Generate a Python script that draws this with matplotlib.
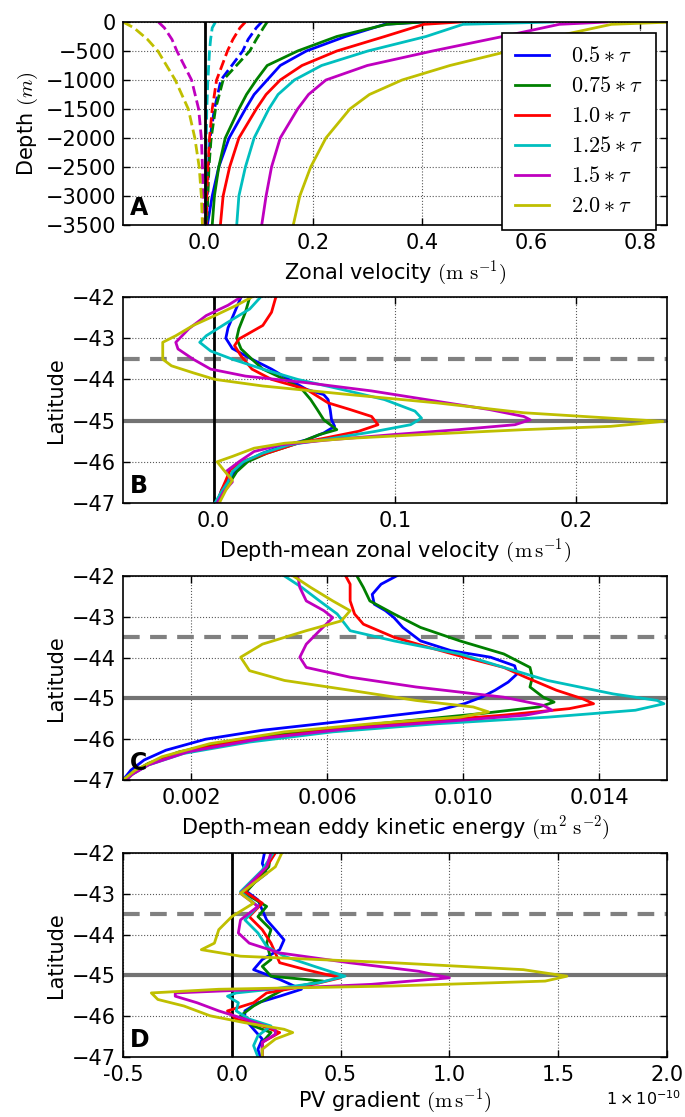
import numpy as np
import matplotlib
matplotlib.use('Agg')
import matplotlib.pyplot as plt

plt.rcParams['mathtext.fontset'] = 'cm'
plt.rcParams['font.family'] = 'DejaVu Sans'

# ------ data ------
labels = [r'$0.5\ast\tau$', r'$0.75\ast\tau$', r'$1.0\ast\tau$',
          r'$1.25\ast\tau$', r'$1.5\ast\tau$', r'$2.0\ast\tau$']
colors = ['b', 'g', 'r', 'c', 'm', 'y']

# --- A: zonal velocity profiles (solid) and dashed profiles
a_depth = [0, -40, -250, -500, -750, -1000, -1250, -1500, -2000, -2500, -3000, -3500]
a_u_05 = [0.40, 0.331, 0.259, 0.187, 0.139, 0.115, 0.091, 0.075, 0.045, 0.026, 0.014, 0.005]
a_u_075 = [0.40, 0.335, 0.243, 0.171, 0.115, 0.095, 0.077, 0.063, 0.038, 0.026, 0.018, 0.014]
a_u_10 = [0.47, 0.403, 0.331, 0.243, 0.179, 0.139, 0.113, 0.095, 0.063, 0.046, 0.034, 0.029]
a_u_125 = [0.64, 0.475, 0.407, 0.300, 0.215, 0.165, 0.135, 0.118, 0.091, 0.075, 0.063, 0.059]
a_u_15 = [0.74, 0.652, 0.548, 0.419, 0.299, 0.223, 0.191, 0.171, 0.139, 0.123, 0.113, 0.105]
a_u_20 = [0.86, 0.748, 0.644, 0.560, 0.451, 0.363, 0.303, 0.267, 0.223, 0.195, 0.175, 0.163]

a_depth_d = [0, -100, -300, -500, -1000, -1500, -2000, -2500, -3000, -3500]
a_ud_05 = [0.105, 0.095, 0.080, 0.070, 0.030, 0.018, 0.010, 0.007, 0.005, 0.003]
a_ud_075 = [0.115, 0.108, 0.095, 0.083, 0.034, 0.020, 0.012, 0.008, 0.006, 0.004]
a_ud_10 = [0.075, 0.065, 0.052, 0.042, 0.022, 0.014, 0.009, 0.006, 0.004, 0.003]
a_ud_125 = [0.020, 0.014, 0.011, 0.009, 0.006, 0.004, 0.003, 0.002, 0.002, 0.002]
a_ud_15 = [-0.085, -0.074, -0.060, -0.051, -0.024, -0.011, -0.006, -0.004, -0.003, -0.003]
a_ud_20 = [-0.150, -0.130, -0.105, -0.086, -0.054, -0.030, -0.018, -0.010, -0.006, -0.004]

# --- B: depth-mean zonal velocity
b_lat_05 = [-42.00, -42.25, -42.50, -42.75, -43.00, -43.25, -43.51, -43.75, -44.00, -44.24, -44.37, -44.49,
            -44.75, -44.98, -45.14, -45.30, -45.47, -45.63, -45.79, -46.00, -46.20, -46.45, -46.69, -47.00]
b_u_05 = [0.0151, 0.0127, 0.0103, 0.0079, 0.0067, 0.0103, 0.0211, 0.0319, 0.0415, 0.0511, 0.0607, 0.0631,
          0.0643, 0.0650, 0.0667, 0.0607, 0.0511, 0.0367, 0.0271, 0.0175, 0.0127, 0.0079, 0.0043, 0.0019]
b_lat_075 = [-42.00, -42.37, -42.77, -43.00, -43.26, -43.51, -43.75, -44.00, -44.24, -44.49, -44.73, -44.98,
             -45.22, -45.34, -45.55, -45.79, -46.00, -46.24, -46.49, -46.73, -47.00]
b_u_075 = [0.0199, 0.0175, 0.0139, 0.0127, 0.0151, 0.0211, 0.0271, 0.0391, 0.0487, 0.0535, 0.0571, 0.0607,
           0.0679, 0.0583, 0.0463, 0.0295, 0.0187, 0.0127, 0.0091, 0.0043, 0.0019]
b_lat_10 = [-42.00, -42.37, -42.69, -43.02, -43.18, -43.43, -43.75, -44.00, -44.24, -44.57, -44.73, -44.90,
            -45.10, -45.26, -45.43, -45.55, -45.79, -46.00, -46.20, -46.45, -46.69, -47.00]
b_u_10 = [0.0343, 0.0319, 0.0271, 0.0139, 0.0115, 0.0151, 0.0211, 0.0319, 0.0511, 0.0631, 0.0751, 0.0871,
          0.0906, 0.0799, 0.0607, 0.0463, 0.0295, 0.0151, 0.0091, 0.0067, 0.0043, 0.0019]
b_lat_125 = [-42.00, -42.29, -42.61, -42.94, -43.10, -43.31, -43.51, -43.75, -44.00, -44.24, -44.49, -44.77,
             -44.94, -45.10, -45.26, -45.43, -45.59, -45.79, -46.00, -46.24, -46.49, -46.73, -47.00]
b_u_125 = [0.0259, 0.0199, 0.0079, -0.0041, -0.0077, -0.0017, 0.0103, 0.0271, 0.0463, 0.0703, 0.0942, 0.1110,
           0.1146, 0.1086, 0.0894, 0.0655, 0.0415, 0.0271, 0.0163, 0.0103, 0.0079, 0.0043, 0.0007]
b_lat_15 = [-42.00, -42.20, -42.45, -42.77, -43.10, -43.26, -43.51, -43.75, -43.92, -44.08, -44.28, -44.53,
            -44.73, -44.90, -44.98, -45.10, -45.22, -45.34, -45.47, -45.59, -45.75, -46.00, -46.24, -46.49,
            -46.73, -47.00]
b_u_15 = [0.0151, 0.0079, -0.0041, -0.0137, -0.0209, -0.0197, -0.0113, -0.0017, 0.0175, 0.0511, 0.0871, 0.1230,
          0.1518, 0.1710, 0.1746, 0.1662, 0.1350, 0.0990, 0.0631, 0.0367, 0.0223, 0.0139, 0.0067, 0.0103,
          0.0055, 0.0019]
b_lat_20 = [-42.00, -42.20, -42.45, -42.69, -42.94, -43.10, -43.31, -43.51, -43.67, -43.84, -44.00, -44.16,
            -44.37, -44.57, -44.81, -44.94, -45.02, -45.14, -45.22, -45.32, -45.43, -45.55, -45.67, -45.87,
            -46.00, -46.20, -46.45, -46.69, -47.00]
b_u_20 = [0.0211, 0.0127, 0.0007, -0.0113, -0.0209, -0.0281, -0.0281, -0.0281, -0.0233, -0.0113, 0.0007, 0.0271,
          0.0751, 0.1230, 0.1710, 0.2189, 0.2477, 0.2189, 0.1710, 0.1230, 0.0751, 0.0391, 0.0223, 0.0103,
          0.0019, 0.0055, 0.0103, 0.0067, 0.0031]

# --- C: depth-mean eddy kinetic energy
c_lat_05 = [-42.00, -42.20, -42.45, -42.69, -42.85, -43.02, -43.26, -43.59, -43.83, -43.99, -44.20, -44.40,
            -44.60, -44.80, -44.97, -45.13, -45.29, -45.54, -45.78, -46.00, -46.27, -46.51, -46.76, -47.00]
c_e_05 = [0.00804, 0.00759, 0.00733, 0.00739, 0.00772, 0.00797, 0.00823, 0.00875, 0.00965, 0.01081, 0.01152,
          0.01159, 0.01133, 0.01094, 0.01055, 0.01004, 0.00926, 0.00668, 0.00410, 0.00243, 0.00126, 0.00062,
          0.00023, 0.00000]
c_lat_075 = [-42.00, -42.28, -42.61, -42.93, -43.26, -43.59, -43.91, -44.24, -44.48, -44.72, -44.97, -45.09,
             -45.21, -45.37, -45.58, -45.78, -46.02, -46.31, -46.59, -46.84, -47.00]
c_e_075 = [0.00688, 0.00707, 0.00726, 0.00797, 0.00875, 0.00991, 0.01120, 0.01197, 0.01204, 0.01197, 0.01236,
           0.01268, 0.01223, 0.01055, 0.00797, 0.00565, 0.00333, 0.00165, 0.00075, 0.00023, 0.00010]
c_lat_10 = [-42.00, -42.20, -42.61, -42.93, -43.18, -43.50, -43.75, -43.99, -44.24, -44.48, -44.80, -45.01,
            -45.13, -45.25, -45.41, -45.58, -45.78, -46.02, -46.31, -46.59, -46.84, -47.00]
c_e_10 = [0.00655, 0.00668, 0.00668, 0.00681, 0.00707, 0.00797, 0.00900, 0.01004, 0.01120, 0.01184, 0.01275,
          0.01352, 0.01384, 0.01313, 0.01120, 0.00862, 0.00604, 0.00359, 0.00178, 0.00081, 0.00030, 0.00010]
c_lat_125 = [-42.00, -42.28, -42.61, -42.93, -43.34, -43.59, -43.91, -44.24, -44.56, -44.89, -45.05, -45.13,
             -45.29, -45.46, -45.62, -45.82, -46.07, -46.35, -46.63, -46.88, -47.00]
c_e_125 = [0.00475, 0.00526, 0.00578, 0.00630, 0.00668, 0.00797, 0.00991, 0.01120, 0.01249, 0.01442, 0.01571,
           0.01591, 0.01507, 0.01249, 0.00926, 0.00617, 0.00372, 0.00178, 0.00075, 0.00023, 0.00010]
c_lat_15 = [-42.00, -42.28, -42.61, -42.85, -43.02, -43.34, -43.67, -43.99, -44.24, -44.48, -44.72, -44.97,
            -45.17, -45.29, -45.41, -45.58, -45.74, -45.98, -46.31, -46.63, -46.88, -47.00]
c_e_15 = [0.00514, 0.00520, 0.00539, 0.00591, 0.00617, 0.00578, 0.00539, 0.00520, 0.00539, 0.00668, 0.00862,
          0.01120, 0.01236, 0.01262, 0.01184, 0.00926, 0.00668, 0.00410, 0.00191, 0.00075, 0.00023, 0.00010]
c_lat_20 = [-42.00, -42.28, -42.61, -42.85, -43.10, -43.34, -43.67, -43.99, -44.32, -44.56, -44.80, -45.05,
            -45.21, -45.33, -45.46, -45.62, -45.82, -46.11, -46.43, -46.76, -47.00]
c_e_20 = [0.00501, 0.00552, 0.00617, 0.00668, 0.00642, 0.00539, 0.00410, 0.00346, 0.00372, 0.00475, 0.00668,
          0.00862, 0.01030, 0.01075, 0.00991, 0.00733, 0.00475, 0.00255, 0.00114, 0.00036, 0.00000]

# --- D: PV gradient (units of 1e-10)
d_lat_05 = [-42.00, -42.26, -42.50, -42.91, -43.15, -43.40, -43.64, -43.88, -44.13, -44.37, -44.61, -44.86,
            -45.10, -45.34, -45.51, -45.67, -45.87, -46.07, -46.32, -46.56, -46.81, -47.00]
d_q_05 = [0.15, 0.14, 0.16, 0.06, 0.12, 0.14, 0.16, 0.20, 0.24, 0.22, 0.14, 0.10,
          0.22, 0.32, 0.22, 0.12, 0.06, 0.06, 0.10, 0.14, 0.12, 0.13]
d_lat_075 = [-42.00, -42.34, -42.99, -43.31, -43.56, -43.88, -44.21, -44.61, -44.78, -45.02, -45.14, -45.34,
             -45.51, -45.75, -45.99, -46.24, -46.40, -46.64, -47.00]
d_q_075 = [0.18, 0.17, 0.06, 0.16, 0.12, 0.18, 0.16, 0.18, 0.14, 0.18, 0.42, 0.24,
           0.18, 0.10, 0.04, 0.10, 0.18, 0.14, 0.14]
d_lat_10 = [-42.00, -42.34, -42.95, -43.23, -43.56, -43.88, -44.21, -44.69, -44.86, -45.06, -45.26, -45.43,
            -45.67, -45.87, -46.07, -46.24, -46.40, -46.64, -47.00]
d_q_10 = [0.20, 0.16, 0.06, 0.14, 0.08, 0.14, 0.18, 0.22, 0.34, 0.50, 0.34, 0.16,
          0.10, -0.02, 0.02, 0.14, 0.22, 0.14, 0.14]
d_lat_125 = [-42.00, -42.42, -42.95, -43.31, -43.64, -43.96, -44.29, -44.53, -44.78, -45.02, -45.18, -45.34,
             -45.43, -45.51, -45.67, -45.87, -46.07, -46.24, -46.48, -46.72, -47.00]
d_q_125 = [0.19, 0.14, 0.04, 0.12, 0.06, 0.12, 0.16, 0.24, 0.38, 0.52, 0.40, 0.18,
           0.02, -0.02, 0.03, 0.02, 0.08, 0.18, 0.12, 0.10, 0.12]
d_lat_15 = [-42.00, -42.34, -42.99, -43.31, -43.64, -43.96, -44.21, -44.45, -44.69, -44.90, -45.06, -45.22,
            -45.34, -45.43, -45.51, -45.67, -45.87, -46.07, -46.32, -46.44, -46.64, -47.00]
d_q_15 = [0.18, 0.16, 0.04, 0.12, 0.04, 0.03, 0.08, 0.22, 0.54, 0.86, 1.00, 0.64,
          0.14, -0.26, -0.26, -0.16, -0.06, 0.06, 0.20, 0.20, 0.14, 0.14]
d_lat_20 = [-42.00, -42.34, -42.99, -43.23, -43.56, -43.88, -44.21, -44.37, -44.53, -44.69, -44.86, -45.02,
            -45.14, -45.26, -45.34, -45.43, -45.59, -45.75, -45.99, -46.16, -46.32, -46.40, -46.56, -46.81, -47.00]
d_q_20 = [0.23, 0.20, 0.04, 0.10, 0.00, -0.06, -0.08, -0.14, 0.04, 0.74, 1.34, 1.54,
          1.44, 0.74, -0.06, -0.37, -0.34, -0.22, -0.10, 0.06, 0.24, 0.28, 0.20, 0.14, 0.14]

lat_front_dash = -43.5
lat_front_solid = -45.0

# ------ figure ------
fig = plt.figure(figsize=(6.85, 11.17), dpi=100)
left, width = 0.1796, 0.7941
axA = fig.add_axes([left, 0.7986, width, 0.1817])
axB = fig.add_axes([left, 0.5497, width, 0.1844])
axC = fig.add_axes([left, 0.3017, width, 0.1826])
axD = fig.add_axes([left, 0.0537, width, 0.1827])


def style(ax, letter):
    ax.grid(True, linestyle=':', color='0.35', linewidth=0.8)
    ax.tick_params(direction='in', top=True, right=True, length=5, width=1, labelsize=15)
    ax.tick_params(axis='x', pad=6)
    ax.tick_params(axis='y', pad=5)
    for s in ax.spines.values():
        s.set_linewidth(1.2)
    ax.text(0.012, 0.025, letter, transform=ax.transAxes, fontsize=17, fontweight='bold',
            va='bottom', ha='left', zorder=10)


# A
for u, c, lab in zip([a_u_05, a_u_075, a_u_10, a_u_125, a_u_15, a_u_20], colors, labels):
    axA.plot(u, a_depth, color=c, lw=2, label=lab)
for u, c in zip([a_ud_05, a_ud_075, a_ud_10, a_ud_125, a_ud_15, a_ud_20], colors):
    axA.plot(u, a_depth_d, color=c, lw=2, ls='--')
axA.axvline(0, color='k', lw=2)
axA.set_xlim(-0.15, 0.85)
axA.set_ylim(-3500, 0)
axA.set_xticks([0.0, 0.2, 0.4, 0.6, 0.8])
axA.set_yticks(np.arange(-3500, 1, 500))
axA.xaxis.set_major_formatter(matplotlib.ticker.FormatStrFormatter('%.1f'))
axA.set_xlabel(r'Zonal velocity $(\mathrm{m\ s^{-1}})$', fontsize=15)
axA.set_ylabel(r'Depth $(m)$', fontsize=15)
leg = axA.legend(loc='upper right', fontsize=16, fancybox=False, edgecolor='k', framealpha=1,
                 labelspacing=0.45, handlelength=1.5, handletextpad=1.0, borderpad=0.6)
leg.get_frame().set_linewidth(1.2)
style(axA, 'A')

lat_ticks = [-47, -46, -45, -44, -43, -42]


def fronts(ax):
    ax.axhline(lat_front_dash, color='0.5', lw=3, ls='--', dashes=(4, 2.5))
    ax.axhline(lat_front_solid, color='0.45', lw=3)


# B
fronts(axB)
axB.axvline(0, color='k', lw=2)
for la, u, c in zip([b_lat_05, b_lat_075, b_lat_10, b_lat_125, b_lat_15, b_lat_20],
                    [b_u_05, b_u_075, b_u_10, b_u_125, b_u_15, b_u_20], colors):
    axB.plot(u, la, color=c, lw=2)
axB.set_xlim(-0.05, 0.25)
axB.set_ylim(-47, -42)
axB.set_xticks([0.0, 0.1, 0.2])
axB.set_yticks(lat_ticks)
axB.xaxis.set_major_formatter(matplotlib.ticker.FormatStrFormatter('%.1f'))
axB.set_xlabel(r'Depth-mean zonal velocity $(\mathrm{m\,s^{-1}})$', fontsize=15)
axB.set_ylabel('Latitude', fontsize=15)
style(axB, 'B')

# C
fronts(axC)
for la, e, c in zip([c_lat_05, c_lat_075, c_lat_10, c_lat_125, c_lat_15, c_lat_20],
                    [c_e_05, c_e_075, c_e_10, c_e_125, c_e_15, c_e_20], colors):
    axC.plot(e, la, color=c, lw=2)
axC.set_xlim(0, 0.016)
axC.set_ylim(-47, -42)
axC.set_xticks([0.002, 0.006, 0.010, 0.014])
axC.set_yticks(lat_ticks)
axC.xaxis.set_major_formatter(matplotlib.ticker.FormatStrFormatter('%.3f'))
axC.set_xlabel(r'Depth-mean eddy kinetic energy $(\mathrm{m^2\ s^{-2}})$', fontsize=15)
axC.set_ylabel('Latitude', fontsize=15)
style(axC, 'C')

# D
fronts(axD)
axD.axvline(0, color='k', lw=2)
for la, q, c in zip([d_lat_05, d_lat_075, d_lat_10, d_lat_125, d_lat_15, d_lat_20],
                    [d_q_05, d_q_075, d_q_10, d_q_125, d_q_15, d_q_20], colors):
    axD.plot(q, la, color=c, lw=2)
axD.set_xlim(-0.5, 2.0)
axD.set_ylim(-47, -42)
axD.set_xticks([-0.5, 0.0, 0.5, 1.0, 1.5, 2.0])
axD.set_yticks(lat_ticks)
axD.xaxis.set_major_formatter(matplotlib.ticker.FormatStrFormatter('%.1f'))
axD.set_xlabel(r'PV gradient $(\mathrm{m\,s^{-1}})$', fontsize=15, labelpad=1)
axD.set_ylabel('Latitude', fontsize=15)
fig.text(0.995, 0.008, r'$1\times10^{-10}$', ha='right', va='bottom', fontsize=11.5,
         math_fontfamily='dejavusans')
style(axD, 'D')

fig.savefig('out.png', dpi=100, facecolor='white')
